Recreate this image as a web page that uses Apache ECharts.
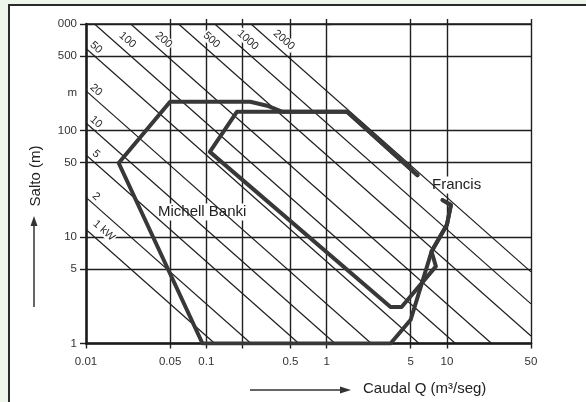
<!DOCTYPE html>
<html>
<head>
<meta charset="utf-8">
<script src="https://cdn.jsdelivr.net/npm/echarts@6/dist/echarts.min.js"></script>
<style>
html,body{margin:0;padding:0;width:586px;height:402px;overflow:hidden;background:#eef6ec;}
#frame{position:absolute;left:8px;top:4px;width:600px;height:420px;background:#fff;border-left:2px solid #2a2a2a;border-top:2px solid #2a2a2a;}
#c{position:absolute;left:0;top:0;width:586px;height:402px;}
</style>
</head>
<body>
<div id="frame"></div>
<div id="c"></div>
<script>
// ---- data ----
const xTickValues = [0.01, 0.05, 0.1, 0.5, 1, 5, 10, 50];
const xTickLabels = ['0.01', '0.05', '0.1', '0.5', '1', '5', '10', '50'];
const xGridValues = [0.01, 0.05, 0.1, 0.2, 0.5, 1, 5, 10, 50];
const yTickValues = [1, 5, 10, 50, 100, 500, 1000];
const yTickLabels = ['1', '5', '10', '50', '100', '500', '000'];
const powerValues = [1, 2, 5, 10, 20, 50, 100, 200, 500, 1000, 2000];
const powerLabels = ['1 kW', '2', '5', '10', '20', '50', '100', '200', '500', '1000', '2000'];
const kWPerQH = 8.5; // P[kW] = k * Q[m3/s] * H[m]
const xRange = [0.01, 50];
const yRange = [1, 1000];

const michellQ = [9.2, 10.8, 10, 7.45, 5, 3.4, 0.093, 0.0187, 0.05, 0.232, 0.32, 0.43, 1.48, 5.7];
const michellH = [22.2, 20, 13, 7.3, 1.67, 1, 1, 49.5, 186, 186, 171, 150, 150, 38];
const francisQ = [9.2, 10.8, 10, 7.45, 8.1, 4.2, 3.4, 0.107, 0.18, 1.48, 5.7];
const francisH = [22.2, 20, 13, 7.3, 5.3, 2.2, 2.2, 63, 150, 150, 38];

// ---- helpers ----
const lg = v => Math.log10(v);
const toLog = (q, h) => [lg(q), lg(h)];
function matchLabel(values, labels, v) {
  for (let i = 0; i < values.length; i++) {
    if (Math.abs(lg(values[i]) - v) < 1e-6) return labels[i];
  }
  return '';
}
function powerSegment(P) {
  const qh = P / kWPerQH;
  const q1 = Math.max(xRange[0], qh / yRange[1]);
  const q2 = Math.min(xRange[1], qh / yRange[0]);
  return [toLog(q1, qh / q1), toLog(q2, qh / q2)];
}

const FONT = "'Liberation Sans', Arial, sans-serif";
const LINE = '#1f1f1f';
const THICK = '#383838';

const chart = echarts.init(document.getElementById('c'), null, {renderer: 'canvas'});

const series = [];
powerValues.forEach((P, i) => {
  series.push({
    type: 'line', name: powerLabels[i] + ' line', data: powerSegment(P),
    symbol: 'none', silent: true, animation: false,
    lineStyle: {color: LINE, width: 1.2}, z: 3
  });
});
series.push({
  type: 'line', name: 'Michell Banki', data: michellQ.map((q, i) => toLog(q, michellH[i])),
  symbol: 'none', silent: true, animation: false,
  lineStyle: {color: THICK, width: 4, join: 'round', cap: 'round'}, z: 5
});
series.push({
  type: 'line', name: 'Francis', data: francisQ.map((q, i) => toLog(q, francisH[i])),
  symbol: 'none', silent: true, animation: false,
  lineStyle: {color: THICK, width: 4, join: 'round', cap: 'round'}, z: 5
});

const xMin = lg(xRange[0]), xMax = lg(xRange[1]);
const yMin = lg(yRange[0]), yMax = lg(yRange[1]);

chart.setOption({
  animation: false,
  backgroundColor: 'transparent',
  grid: {left: 86, right: 55, top: 24, bottom: 58.5, containLabel: false},
  xAxis: [{
    type: 'value', min: xMin, max: xMax, position: 'bottom',
    axisLine: {show: true, onZero: false, lineStyle: {color: '#1a1a1a', width: 2.5}},
    axisTick: {show: true, length: 5, inside: false, customValues: xGridValues.map(lg), lineStyle: {color: LINE, width: 1.4}},
    axisLabel: {show: true, margin: 12, customValues: xTickValues.map(lg), color: '#333', fontSize: 11.5, fontFamily: FONT,
      formatter: v => matchLabel(xTickValues, xTickLabels, v)},
    splitLine: {show: true, lineStyle: {color: LINE, width: 1.4}}
  }, {
    type: 'value', min: xMin, max: xMax, position: 'top',
    axisLine: {show: true, onZero: false, lineStyle: {color: LINE, width: 1.6}},
    axisTick: {show: true, length: 5, inside: false, customValues: xGridValues.slice(1).map(lg), lineStyle: {color: LINE, width: 1.4}},
    axisLabel: {show: false},
    splitLine: {show: false}
  }],
  yAxis: [{
    type: 'value', min: yMin, max: yMax, position: 'left',
    axisLine: {show: true, onZero: false, lineStyle: {color: '#1a1a1a', width: 2.5}},
    axisTick: {show: true, length: 6, inside: false, customValues: yTickValues.map(lg), lineStyle: {color: LINE, width: 1.4}},
    axisLabel: {show: true, margin: 9, customValues: yTickValues.map(lg), color: '#333', fontSize: 11.5, fontFamily: FONT,
      formatter: v => matchLabel(yTickValues, yTickLabels, v)},
    splitLine: {show: true, lineStyle: {color: LINE, width: 1.4}}
  }, {
    type: 'value', min: yMin, max: yMax, position: 'right',
    axisLine: {show: false},
    axisTick: {show: true, length: 4, inside: false, customValues: yTickValues.map(lg), lineStyle: {color: LINE, width: 1.4}},
    axisLabel: {show: false},
    splitLine: {show: false}
  }],
  series: series
});

// ---- labels placed relative to the library's own coordinates ----
const graphics = [];
powerValues.forEach((P, i) => {
  const seg = powerSegment(P);
  const start = chart.convertToPixel({xAxisIndex: 0, yAxisIndex: 0}, seg[0]);
  const fromTop = Math.abs(seg[0][1] - yMax) < 1e-9;
  let dx, dy;
  if (fromTop) { dx = 33; dy = 16; }
  else if (powerLabels[i].length > 2) { dx = 18; dy = 1; }
  else { dx = 10; dy = -1; }
  graphics.push({
    type: 'text', x: start[0] + dx, y: start[1] + dy, rotation: -0.726, silent: true,
    style: {text: powerLabels[i], fill: '#2a2a2a', font: '11px ' + FONT, textAlign: 'center', textVerticalAlign: 'middle',
      backgroundColor: '#fff', padding: [0, 1]}
  });
});
graphics.push({
  type: 'text', x: 77, y: 93, silent: true,
  style: {text: 'm', fill: '#333', font: '11.5px ' + FONT, textAlign: 'right', textVerticalAlign: 'middle'}
});
graphics.push({
  type: 'text', x: 156, y: 212, silent: true,
  style: {text: 'Michell Banki', fill: '#222', font: '15px ' + FONT, textAlign: 'left', textVerticalAlign: 'middle',
    backgroundColor: '#fff', padding: [1, 2]}
});
graphics.push({
  type: 'text', x: 430, y: 185, silent: true,
  style: {text: 'Francis', fill: '#222', font: '15px ' + FONT, textAlign: 'left', textVerticalAlign: 'middle',
    backgroundColor: '#fff', padding: [1, 2]}
});
// axis names with arrows
graphics.push({
  type: 'text', x: 36, y: 176, rotation: Math.PI / 2, silent: true,
  style: {text: 'Salto (m)', fill: '#222', font: '15px ' + FONT, textAlign: 'center', textVerticalAlign: 'middle'}
});
graphics.push({type: 'line', silent: true, shape: {x1: 34, y1: 307, x2: 34, y2: 224}, style: {stroke: '#333', lineWidth: 1.5}});
graphics.push({type: 'polygon', silent: true, shape: {points: [[34, 216], [30.5, 226], [37.5, 226]]}, style: {fill: '#333'}});
graphics.push({
  type: 'text', x: 363, y: 389, silent: true,
  style: {text: 'Caudal Q (m³/seg)', fill: '#222', font: '15px ' + FONT, textAlign: 'left', textVerticalAlign: 'middle'}
});
graphics.push({type: 'line', silent: true, shape: {x1: 250, y1: 390, x2: 342, y2: 390}, style: {stroke: '#333', lineWidth: 1.5}});
graphics.push({type: 'polygon', silent: true, shape: {points: [[351, 390], [340, 386.5], [340, 393.5]]}, style: {fill: '#333'}});

chart.setOption({graphic: {elements: graphics}});
</script>
</body>
</html>
